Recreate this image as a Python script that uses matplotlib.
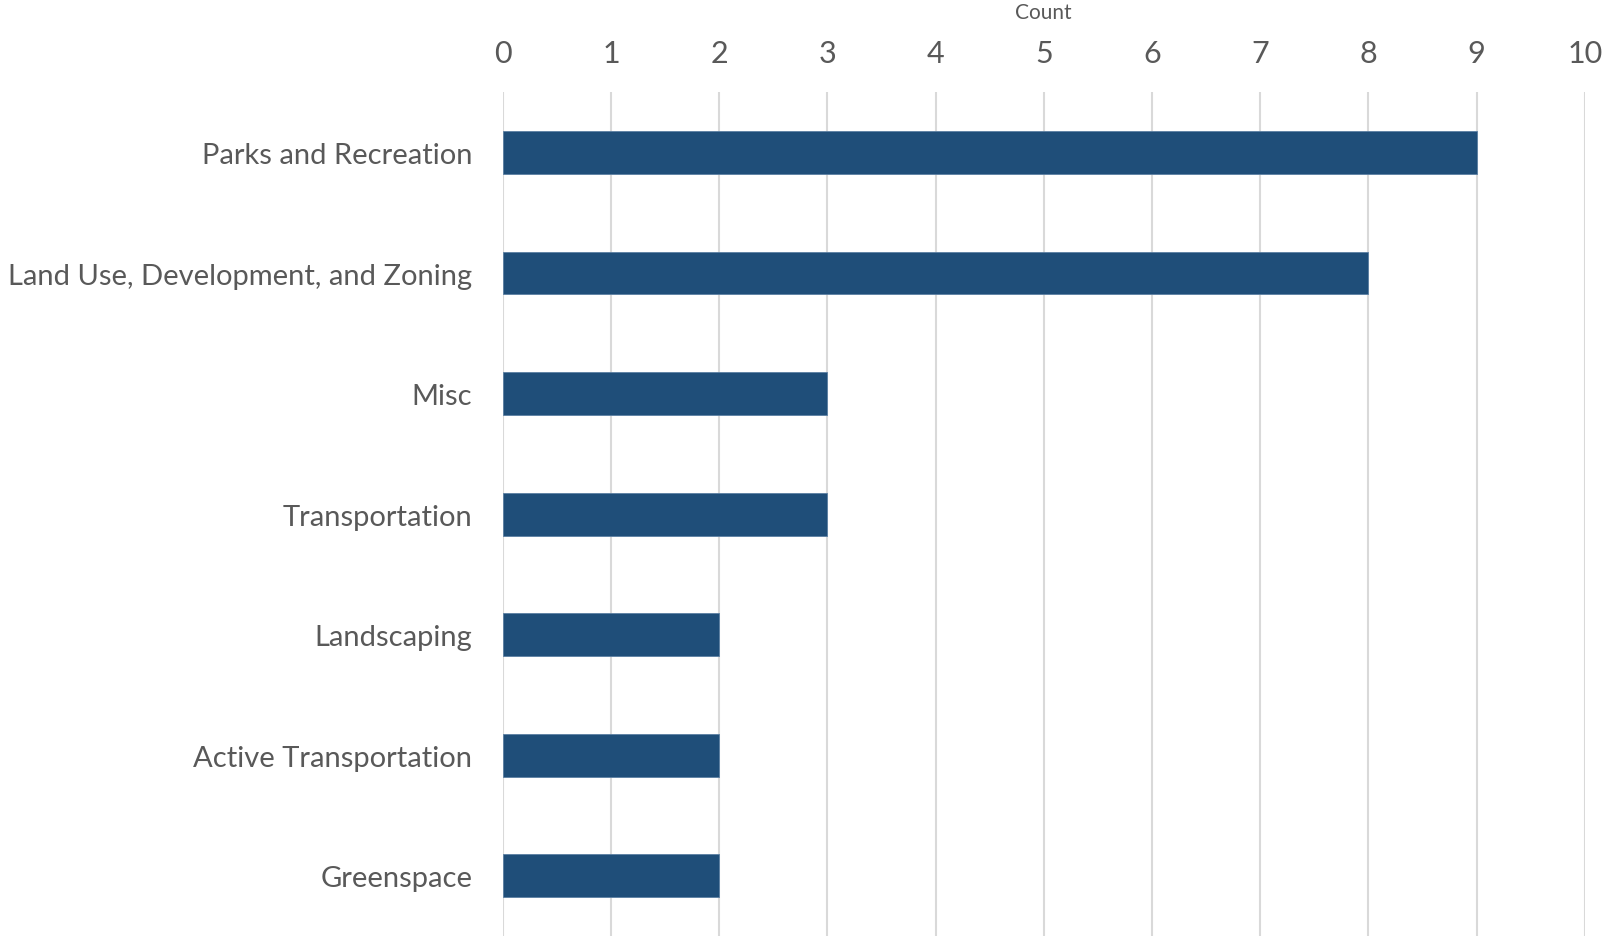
import matplotlib.pyplot as plt
import numpy as np

# data, top to bottom as shown
categories = ["Parks and Recreation", "Land Use, Development, and Zoning", "Misc",
              "Transportation", "Landscaping", "Active Transportation", "Greenspace"]
counts = [9, 8, 3, 3, 2, 2, 2]
x_ticks = np.arange(0, 11, 1)

plt.rcParams['font.family'] = ['Lato', 'DejaVu Sans']

fig = plt.figure(figsize=(16.05, 9.37), dpi=100)
ax = fig.add_axes([0.3132, 0.0, 0.6743, 0.9005])

y = np.arange(len(categories))
ax.barh(y, counts, height=0.355, color="#1f4e79", edgecolor="#5b7fa3", linewidth=0.6, zorder=3)

ax.set_ylim(len(categories) - 0.5, -0.5)
ax.set_xlim(0, 10)
ax.set_xticks(x_ticks)
ax.set_yticks(y)
ax.set_yticklabels(categories)

ax.xaxis.tick_top()
ax.xaxis.set_label_position('top')
ax.set_xlabel("Count", fontsize=15, color="#595959", va='center')
ax.xaxis.set_label_coords(0.5, 1.0955)

ax.tick_params(axis='x', length=0, labelsize=22, labelcolor="#595959", pad=18)
ax.tick_params(axis='y', length=0, labelsize=21, labelcolor="#595959", pad=22)

ax.grid(axis='x', color="#d9d9d9", linewidth=1.5, zorder=0)
for s in ax.spines.values():
    s.set_visible(False)

fig.savefig("out.png", dpi=100)
